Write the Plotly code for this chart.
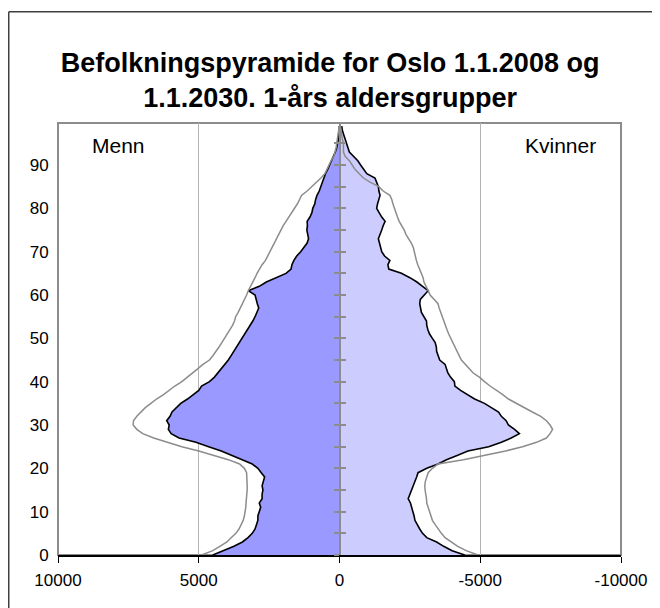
import plotly.graph_objects as go

ages = list(range(0, 100))

# Menn 2008 (persons)
menn_2008 = [4500, 4100, 3750, 3450, 3250, 3100, 3000, 2950, 2900, 2900,
             2860, 2800, 2850, 2750, 2750, 2720, 2750, 2700, 2660, 2780,
             2900, 3100, 3450, 3800, 4200, 4650, 5100, 5700, 5980, 6080,
             6050, 6140, 6020, 5950, 5800, 5640, 5400, 5200, 5000, 4900,
             4620, 4450, 4320, 4220, 4080, 3950, 3850, 3750, 3650, 3550,
             3450, 3350, 3280, 3180, 3080, 3000, 2920, 2870, 2920, 2960,
             3000, 3240, 2850, 2600, 2270, 1900, 1720, 1690, 1620, 1520,
             1380, 1250, 1150, 1100, 1120, 1160, 1140, 1150, 1050, 980,
             950, 880, 850, 800, 720, 670, 620, 570, 500, 420,
             350, 270, 200, 150, 100, 60, 40, 30, 20, 10]

# Kvinner 2008 (negative, plotted to the right)
kvinner_2008 = [-4450, -4000, -3700, -3450, -3100, -2950, -2850, -2750, -2680, -2650,
                -2600, -2570, -2520, -2440, -2500, -2580, -2620, -2680, -2740, -2790,
                -3100, -3500, -3800, -4200, -4560, -5300, -5750, -6100, -6390, -6220,
                -6000, -5920, -5750, -5650, -5400, -5150, -4800, -4550, -4300, -4100,
                -4080, -3950, -3850, -3800, -3750, -3560, -3500, -3450, -3440, -3400,
                -3300, -3200, -3140, -3100, -3090, -3000, -2910, -2880, -2850, -2870,
                -3000, -3150, -2950, -2750, -2500, -2200, -1750, -1720, -1790, -1600,
                -1500, -1450, -1420, -1380, -1450, -1500, -1550, -1620, -1500, -1400,
                -1320, -1350, -1400, -1440, -1400, -1380, -1320, -1260, -970, -850,
                -750, -650, -500, -350, -300, -260, -200, -150, -100, -80]

# Menn 2030
menn_2030 = [4900, 4500, 4250, 4000, 3850, 3680, 3570, 3500, 3420, 3380,
             3350, 3330, 3320, 3300, 3280, 3280, 3280, 3280, 3280, 3300,
             3380, 3550, 3950, 4450, 5000, 5600, 6150, 6600, 6990, 7200,
             7330, 7320, 7200, 7050, 6900, 6700, 6500, 6250, 6050, 5850,
             5600, 5400, 5200, 5030, 4850, 4620, 4500, 4380, 4280, 4180,
             4080, 3980, 3900, 3800, 3730, 3690, 3600, 3520, 3450, 3380,
             3300, 3240, 3150, 3080, 3000, 2930, 2850, 2750, 2630, 2550,
             2480, 2400, 2320, 2250, 2180, 2100, 2000, 1900, 1800, 1680,
             1580, 1500, 1420, 1350, 1150, 980, 820, 660, 520, 450,
             380, 300, 200, 150, 120, 100, 70, 50, 30, 20]

# Kvinner 2030
kvinner_2030 = [-4920, -4500, -4200, -3950, -3750, -3620, -3500, -3400, -3300, -3250,
                -3180, -3150, -3100, -3090, -3060, -3040, -3030, -3050, -3100, -3150,
                -3300, -3500, -4400, -5200, -5900, -6500, -7000, -7350, -7480, -7570,
                -7480, -7350, -7150, -6850, -6550, -6300, -6000, -5800, -5550, -5350,
                -5150, -4980, -4750, -4600, -4450, -4330, -4250, -4170, -4100, -4040,
                -3960, -3880, -3820, -3760, -3700, -3640, -3580, -3540, -3500, -3350,
                -3220, -3150, -3080, -3000, -2970, -2900, -2850, -2780, -2730, -2700,
                -2650, -2620, -2550, -2450, -2360, -2300, -2200, -2120, -2060, -2000,
                -1950, -1900, -1860, -1790, -1550, -1400, -1100, -850, -700, -550,
                -450, -350, -200, -140, -140, -140, -100, -70, -50, -30]

x_ticks = [10000, 5000, 0, -5000, -10000]
x_tick_labels = ["10000", "5000", "0", "-5000", "-10000"]
y_ticks = list(range(0, 100, 10))
center_ticks = list(range(0, 100, 5))

FONT = "Liberation Sans, Arial, sans-serif"

fig = go.Figure()

fig.add_trace(go.Scatter(x=menn_2008, y=ages, mode="lines", fill="tozerox",
                         fillcolor="#9999FF", line=dict(color="black", width=1.6),
                         hoverinfo="skip", showlegend=False))
fig.add_trace(go.Scatter(x=kvinner_2008, y=ages, mode="lines", fill="tozerox",
                         fillcolor="#CCCCFF", line=dict(color="black", width=1.6),
                         hoverinfo="skip", showlegend=False))
fig.add_trace(go.Scatter(x=menn_2030, y=ages, mode="lines",
                         line=dict(color="#8C8C8C", width=1.5),
                         hoverinfo="skip", showlegend=False))
fig.add_trace(go.Scatter(x=kvinner_2030, y=ages, mode="lines",
                         line=dict(color="#8C8C8C", width=1.5),
                         hoverinfo="skip", showlegend=False))
# invisible traces to activate center axes
fig.add_trace(go.Scatter(x=[0], y=[0], yaxis="y2", mode="markers",
                         marker=dict(opacity=0), hoverinfo="skip", showlegend=False))
fig.add_trace(go.Scatter(x=[0], y=[0], yaxis="y3", mode="markers",
                         marker=dict(opacity=0), hoverinfo="skip", showlegend=False))

YR = [0, 99.7]

fig.update_layout(
    width=660, height=608,
    margin=dict(l=50, r=47, t=115, b=61),
    paper_bgcolor="white", plot_bgcolor="white",
    font=dict(family=FONT, color="black", size=17),
    title=dict(text="<b>Befolkningspyramide for Oslo 1.1.2008 og<br>1.1.2030. 1-års aldersgrupper</b>",
               x=0.488, xref="container", xanchor="center",
               y=1 - 64 / 608, yref="container", yanchor="middle",
               font=dict(family=FONT, size=27, color="black")),
    xaxis=dict(range=[10000, -10000], tickvals=x_ticks, ticktext=x_tick_labels,
               showgrid=True, gridcolor="#B4B4B4", gridwidth=1,
               zeroline=False, showline=True, linecolor="black", linewidth=1.5,
               ticks="outside", ticklen=6, tickcolor="black", tickwidth=1,
               ticklabelstandoff=3, tickfont=dict(size=17)),
    yaxis=dict(range=YR, tickvals=y_ticks, showgrid=False, zeroline=False,
               showline=False, ticks="outside", ticklen=5,
               tickcolor="rgba(0,0,0,0)", tickfont=dict(size=17)),
    yaxis2=dict(range=YR, overlaying="y", anchor="free", position=0.5, side="left",
                showline=True, linecolor="#8C8C8C", linewidth=2,
                tickvals=center_ticks, ticks="outside", ticklen=5,
                tickcolor="#8C8C8C", tickwidth=1.5, showticklabels=False,
                showgrid=False, zeroline=False),
    yaxis3=dict(range=YR, overlaying="y", anchor="free", position=0.5, side="left",
                showline=False, tickvals=center_ticks, ticks="inside", ticklen=5,
                tickcolor="#8C8C8C", tickwidth=1.5, showticklabels=False,
                showgrid=False, zeroline=False),
    shapes=[
        dict(type="rect", xref="paper", yref="paper", x0=0, x1=1, y0=0, y1=1,
             line=dict(color="#8C8C8C", width=2), layer="below"),
        dict(type="line", xref="paper", yref="paper", x0=-0.0875, x1=1.2,
             y0=1.2576, y1=1.2576, line=dict(color="#404040", width=1.5)),
        dict(type="line", xref="paper", yref="paper", x0=-0.0875, x1=-0.0875,
             y0=-0.3, y1=1.2576, line=dict(color="#404040", width=1.5)),
    ],
    annotations=[
        dict(text="Menn", xref="paper", yref="paper", x=0.1066, y=0.949,
             showarrow=False, font=dict(family=FONT, size=21, color="black"),
             xanchor="center", yanchor="middle"),
        dict(text="Kvinner", xref="paper", yref="paper", x=0.893, y=0.949,
             showarrow=False, font=dict(family=FONT, size=21, color="black"),
             xanchor="center", yanchor="middle"),
    ],
)

fig.write_html("out.html")
